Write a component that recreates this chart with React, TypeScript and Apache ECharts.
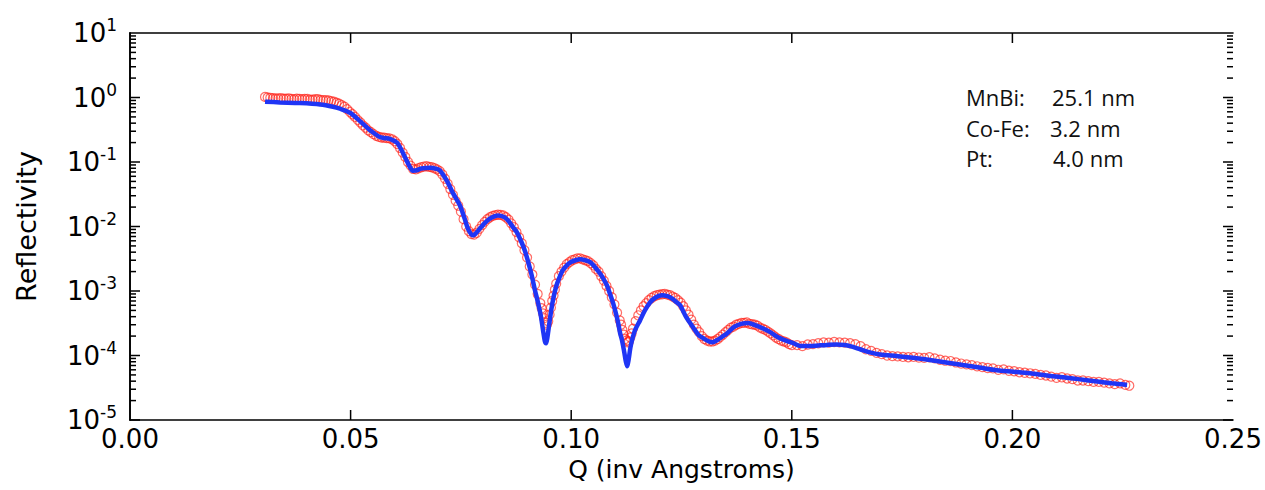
import React, { useEffect, useRef } from "react";
import * as echarts from "echarts";

// Fit curve (blue line)
const FIT_Q = [
  0.0306, 0.034, 0.0385, 0.0431, 0.046, 0.0476, 0.0499, 0.0515, 0.0528, 0.0542,
  0.0555, 0.0565, 0.0575, 0.0589, 0.0605, 0.0615, 0.0625, 0.0634, 0.0641, 0.065,
  0.066, 0.068, 0.0695, 0.0703, 0.0718, 0.0733, 0.0748, 0.0758, 0.0766, 0.0777,
  0.0785, 0.0793, 0.0805, 0.0816, 0.0834, 0.0848, 0.0857, 0.0868, 0.0877, 0.0887,
  0.0895, 0.0902, 0.091, 0.0918, 0.0925, 0.0931, 0.0936, 0.094, 0.0943, 0.0946,
  0.095, 0.0955, 0.096, 0.0966, 0.0973, 0.0981, 0.099, 0.0999, 0.101, 0.102,
  0.1032, 0.1043, 0.1055, 0.1065, 0.1074, 0.1081, 0.1088, 0.1095, 0.1101, 0.1106,
  0.1111, 0.1115, 0.112, 0.1124, 0.1127, 0.113, 0.1134, 0.1138, 0.1145, 0.1156,
  0.1167, 0.1179, 0.1192, 0.1206, 0.1218, 0.1228, 0.124, 0.1247, 0.126, 0.1276,
  0.1288, 0.1299, 0.131, 0.1319, 0.133, 0.1342, 0.1353, 0.137, 0.1385, 0.1401,
  0.142, 0.1436, 0.1451, 0.147, 0.1487, 0.1503, 0.152, 0.1541, 0.156, 0.158,
  0.1602, 0.162, 0.1632, 0.1655, 0.1677, 0.17, 0.1738, 0.1775, 0.1813, 0.185,
  0.1888, 0.1925, 0.1965, 0.2003, 0.204, 0.2078, 0.2115, 0.215, 0.2187, 0.2225,
  0.226,
];
const FIT_R = [
  0.86, 0.84, 0.82, 0.78, 0.72, 0.67, 0.58, 0.47, 0.39, 0.32,
  0.274, 0.247, 0.236, 0.229, 0.199, 0.155, 0.112, 0.085, 0.0734, 0.0745,
  0.0795, 0.0817, 0.078, 0.0734, 0.0514, 0.032, 0.0211, 0.0135, 0.0093, 0.0073,
  0.008, 0.0093, 0.0115, 0.0133, 0.0148, 0.014, 0.0124, 0.0098, 0.0081, 0.0058,
  0.0042, 0.0029, 0.0018, 0.00102, 0.00065, 0.00042, 0.00025, 0.00017, 0.000155, 0.00019,
  0.0003, 0.00052, 0.0008, 0.00118, 0.0016, 0.0021, 0.0025, 0.0028, 0.003, 0.0031,
  0.003, 0.0028, 0.0023, 0.00188, 0.0015, 0.00122, 0.0009, 0.00065, 0.00046, 0.00033,
  0.00022, 0.000174, 0.000115, 0.00008, 0.000068, 0.000085, 0.00013, 0.000174, 0.00025, 0.00035,
  0.0005, 0.00067, 0.0008, 0.00086, 0.00083, 0.00077, 0.00066, 0.0006, 0.0004, 0.000275,
  0.00021, 0.000186, 0.000168, 0.00016, 0.000172, 0.000195, 0.00022, 0.00028, 0.00031, 0.00032,
  0.00029, 0.00026, 0.00023, 0.00019, 0.00017, 0.000155, 0.00014, 0.00014, 0.000143, 0.000146,
  0.000148, 0.000145, 0.00014, 0.000125, 0.000112, 0.000104, 0.000098, 0.000092, 0.000085, 0.000078,
  0.000071, 0.000065, 0.000059, 0.000056, 0.000053, 0.000049, 0.000046, 0.000043, 0.00004, 0.000037,
  0.000035,
];

// Measured data (red open circles)
const DATA_Q = [
  0.0306, 0.0312, 0.0318, 0.0324, 0.033, 0.0336, 0.0342, 0.0348, 0.0354, 0.036,
  0.0366, 0.0372, 0.0378, 0.0384, 0.039, 0.0396, 0.0402, 0.0408, 0.0414, 0.042,
  0.0426, 0.0432, 0.0438, 0.0444, 0.045, 0.0456, 0.0462, 0.0468, 0.0474, 0.048,
  0.0486, 0.0492, 0.0498, 0.0504, 0.051, 0.0516, 0.0522, 0.0528, 0.0534, 0.054,
  0.0546, 0.0552, 0.0558, 0.0564, 0.057, 0.0576, 0.0582, 0.0588, 0.0594, 0.06,
  0.0606, 0.0612, 0.0618, 0.0624, 0.063, 0.0636, 0.0642, 0.0648, 0.0654, 0.066,
  0.0666, 0.0672, 0.0678, 0.0684, 0.069, 0.0696, 0.0702, 0.0708, 0.0714, 0.072,
  0.0726, 0.0732, 0.0738, 0.0744, 0.075, 0.0756, 0.0762, 0.0768, 0.0774, 0.078,
  0.0786, 0.0792, 0.0798, 0.0804, 0.081, 0.0816, 0.0822, 0.0828, 0.0834, 0.084,
  0.0846, 0.0852, 0.0858, 0.0864, 0.087, 0.0876, 0.0882, 0.0888, 0.0894, 0.09,
  0.0906, 0.0912, 0.0918, 0.0924, 0.093, 0.0933, 0.0936, 0.0939, 0.0942, 0.0945,
  0.0948, 0.0951, 0.0954, 0.0957, 0.096, 0.0963, 0.0966, 0.0972, 0.0978, 0.0984,
  0.099, 0.0996, 0.1002, 0.1008, 0.1014, 0.102, 0.1026, 0.1032, 0.1038, 0.1044,
  0.105, 0.1056, 0.1062, 0.1068, 0.1074, 0.108, 0.1086, 0.1092, 0.1098, 0.1104,
  0.111, 0.1113, 0.1116, 0.1119, 0.1122, 0.1125, 0.1128, 0.1131, 0.1134, 0.1137,
  0.114, 0.1146, 0.1152, 0.1158, 0.1164, 0.117, 0.1176, 0.1182, 0.1188, 0.1194,
  0.12, 0.1206, 0.1212, 0.1218, 0.1224, 0.123, 0.1236, 0.1242, 0.1248, 0.1254,
  0.126, 0.1266, 0.1272, 0.1278, 0.1284, 0.129, 0.1296, 0.1302, 0.1308, 0.1314,
  0.132, 0.1326, 0.1332, 0.1338, 0.1344, 0.135, 0.1356, 0.1362, 0.1368, 0.1374,
  0.138, 0.1386, 0.1392, 0.1398, 0.1404, 0.141, 0.1416, 0.1422, 0.1428, 0.1434,
  0.144, 0.1446, 0.1452, 0.1458, 0.1464, 0.147, 0.1476, 0.1482, 0.1488, 0.1494,
  0.15, 0.1512, 0.1524, 0.1536, 0.1548, 0.156, 0.1572, 0.1584, 0.1596, 0.1608,
  0.162, 0.1632, 0.1644, 0.1656, 0.1668, 0.168, 0.1692, 0.1704, 0.1716, 0.1728,
  0.174, 0.1752, 0.1764, 0.1776, 0.1788, 0.18, 0.1812, 0.1824, 0.1836, 0.1848,
  0.186, 0.1872, 0.1884, 0.1896, 0.1908, 0.192, 0.1932, 0.1944, 0.1956, 0.1968,
  0.198, 0.1992, 0.2004, 0.2016, 0.2028, 0.204, 0.2052, 0.2064, 0.2076, 0.2088,
  0.21, 0.2112, 0.2124, 0.2136, 0.2148, 0.216, 0.2172, 0.2184, 0.2196, 0.2208,
  0.222, 0.2232, 0.2244, 0.2256, 0.2265,
];
const DATA_R = [
  1.02, 1.0, 0.99, 0.98, 0.97, 0.97, 0.98, 0.96, 0.96, 0.97,
  0.95, 0.94, 0.96, 0.95, 0.94, 0.95, 0.95, 0.93, 0.93, 0.94,
  0.94, 0.92, 0.91, 0.91, 0.9, 0.88, 0.86, 0.83, 0.8, 0.76,
  0.72, 0.66, 0.6, 0.55, 0.5, 0.45, 0.41, 0.37, 0.34, 0.31,
  0.29, 0.27, 0.255, 0.245, 0.24, 0.238, 0.235, 0.232, 0.225, 0.21,
  0.19, 0.165, 0.14, 0.12, 0.1, 0.088, 0.078, 0.077, 0.08, 0.083,
  0.085, 0.086, 0.084, 0.083, 0.08, 0.077, 0.072, 0.064, 0.055, 0.046,
  0.038, 0.031, 0.025, 0.021, 0.017, 0.013, 0.01, 0.0085, 0.0076, 0.0075,
  0.008, 0.0092, 0.0105, 0.0118, 0.013, 0.0139, 0.0146, 0.015, 0.0152, 0.0151,
  0.0148, 0.0139, 0.0128, 0.0112, 0.0098, 0.0082, 0.0068, 0.0055, 0.0043, 0.0033,
  0.0024, 0.0018, 0.00125, 0.0009, 0.00065, 0.00054, 0.00045, 0.00038, 0.00032, 0.0003,
  0.00034, 0.00043, 0.00055, 0.0007, 0.00085, 0.00105, 0.0013, 0.0017, 0.002, 0.0023,
  0.0026, 0.0028, 0.003, 0.0031, 0.0032, 0.0032, 0.0031, 0.003, 0.0029, 0.0027,
  0.0025, 0.0022, 0.002, 0.0017, 0.00145, 0.0012, 0.001, 0.0008, 0.00062, 0.00046,
  0.00035, 0.0003, 0.00025, 0.00021, 0.00018, 0.00017, 0.00016, 0.000165, 0.00019, 0.00022,
  0.00026, 0.00034, 0.00042, 0.0005, 0.00058, 0.00065, 0.00072, 0.00078, 0.00083, 0.00086,
  0.00088, 0.00089, 0.0009, 0.00088, 0.00086, 0.00082, 0.00078, 0.00072, 0.00066, 0.00058,
  0.0005, 0.00043, 0.00036, 0.0003, 0.00026, 0.00023, 0.0002, 0.00018, 0.00017, 0.000165,
  0.000165, 0.00017, 0.00018, 0.000195, 0.00021, 0.00023, 0.00025, 0.00027, 0.00028, 0.0003,
  0.00031, 0.00032, 0.00032, 0.000325, 0.00031, 0.000305, 0.0003, 0.00029, 0.00027, 0.00026,
  0.00025, 0.000235, 0.00022, 0.000205, 0.00019, 0.00018, 0.00017, 0.000165, 0.00016, 0.00015,
  0.000145, 0.000145, 0.00014, 0.000148, 0.00015, 0.000155, 0.00016, 0.000158, 0.000162, 0.00016,
  0.000158, 0.000155, 0.00015, 0.00014, 0.000125, 0.000118, 0.00011, 0.000105, 0.0001, 0.000098,
  0.000097, 0.000095, 0.000094, 0.000095, 0.000093, 0.000092, 0.000094, 0.00009, 0.000086, 0.000083,
  0.000082, 0.000078, 0.000075, 0.000073, 0.000071, 0.000068, 0.000066, 0.000064, 0.000063, 0.00006,
  0.000061, 0.000058, 0.000057, 0.000055, 0.000054, 0.000053, 0.000052, 0.00005, 0.000049, 0.000047,
  0.000045, 0.000046, 0.000044, 0.000043, 0.000041, 0.000041, 0.00004, 0.000039, 0.000039, 0.000038,
  0.000037, 0.000036, 0.000037, 0.000035, 0.000034,
];

// Axis settings
const X_MIN = 0;
const X_MAX = 0.25;
const X_STEP = 0.05;
const X_MAJOR = [0.05, 0.1, 0.15, 0.2];
const Y_MIN = 1e-5;
const Y_MAX = 10;
const MINOR_MULTS = [2, 3, 4, 5, 6, 7, 8, 9];
const DECADES = [1e-5, 1e-4, 1e-3, 1e-2, 1e-1, 1];

// Annotation
const ANNOT_NAMES = ["MnBi:", "Co-Fe:", "Pt:"];
const ANNOT_VALUES = ["25.1 nm", "3.2 nm", "4.0 nm"];

const FONT = "DejaVu Sans";

export default function App() {
  const ref = useRef<HTMLDivElement>(null);

  useEffect(() => {
    if (!ref.current) return;
    const chart = echarts.init(ref.current, undefined, { renderer: "svg" });

    const fitData = FIT_Q.map((q, i) => [q, FIT_R[i]]);
    const measData = DATA_Q.map((q, i) => [q, DATA_R[i]]);
    // y tick marks: [0, value, length]
    const yTickData: number[][] = [];
    DECADES.forEach((d) => {
      yTickData.push([0, d, 10]);
      MINOR_MULTS.forEach((m) => yTickData.push([0, m * d, 6]));
    });
    const xTickData: number[][] = X_MAJOR.map((q) => [q, Y_MIN, 10]);

    const GRID = { left: 130, top: 33, width: 1103, height: 387 };
    const axisLine = { show: true, lineStyle: { color: "#000", width: 1.6 } };

    const yLabelFmt = (v: number) => {
      const e = Math.round(Math.log10(v));
      return `{b|10}{s|${e}}`;
    };

    const annotGraphics: any[] = [];
    ANNOT_NAMES.forEach((n, i) => {
      annotGraphics.push({
        type: "text",
        left: 966,
        top: 86 + i * 30.5,
        style: { text: n, font: '22px "Open Sans"', fill: "#111" },
      });
    });
    ANNOT_VALUES.forEach((v, i) => {
      annotGraphics.push({
        type: "text",
        left: [1052, 1050, 1053][i],
        top: 86 + i * 30.5,
        style: { text: v, font: '22px "Open Sans"', fill: "#111" },
      });
    });

    chart.setOption({
      animation: false,
      backgroundColor: "#fff",
      grid: { ...GRID, containLabel: false },
      xAxis: [
        {
          type: "value",
          min: X_MIN,
          max: X_MAX,
          interval: X_STEP,
          position: "bottom",
          axisLine,
          axisTick: { show: false },
          axisLabel: {
            color: "#000",
            fontFamily: FONT,
            fontSize: 26,
            margin: 6,
            formatter: (v: number) => v.toFixed(2),
          },
          splitLine: { show: false },
          name: "Q (inv Angstroms)",
          nameLocation: "middle",
          nameGap: 34,
          nameTextStyle: { color: "#000", fontFamily: FONT, fontSize: 25 },
        },
        {
          type: "value",
          min: X_MIN,
          max: X_MAX,
          interval: X_STEP,
          position: "top",
          axisLine,
          axisTick: { show: false },
          axisLabel: { show: false },
          splitLine: { show: false },
        },
      ],
      yAxis: [
        {
          type: "log",
          logBase: 10,
          min: Y_MIN,
          max: Y_MAX,
          splitNumber: 6,
          position: "left",
          axisLine,
          axisTick: { show: false },
          axisLabel: {
            color: "#000",
            margin: 13,
            formatter: yLabelFmt,
            rich: {
              b: { fontFamily: FONT, fontSize: 26, lineHeight: 33, color: "#000" },
              s: { fontFamily: FONT, fontSize: 17, lineHeight: 17, padding: [0, 0, 16, 0], color: "#000" },
            },
          },
          splitLine: { show: false },
          name: "Reflectivity",
          nameLocation: "middle",
          nameGap: 90,
          nameTextStyle: { color: "#000", fontFamily: FONT, fontSize: 27 },
        },
        {
          type: "log",
          logBase: 10,
          min: Y_MIN,
          max: Y_MAX,
          splitNumber: 6,
          position: "right",
          axisLine,
          axisTick: { show: false },
          axisLabel: { show: false },
          splitLine: { show: false },
        },
      ],
      graphic: annotGraphics,
      series: [
        {
          name: "yticks",
          type: "custom",
          xAxisIndex: 0,
          yAxisIndex: 0,
          clip: false,
          silent: true,
          data: yTickData,
          renderItem: (params: any, api: any) => {
            const v = api.value(1);
            const len = api.value(2);
            const l = api.coord([X_MIN, v]);
            const r = api.coord([X_MAX, v]);
            return {
              type: "group",
              children: [
                { type: "line", shape: { x1: l[0], y1: l[1], x2: l[0] + len, y2: l[1] }, style: { stroke: "#000", lineWidth: 1.5 } },
                { type: "line", shape: { x1: r[0] - len, y1: r[1], x2: r[0], y2: r[1] }, style: { stroke: "#000", lineWidth: 1.5 } },
              ],
            };
          },
        },
        {
          name: "xticks",
          type: "custom",
          xAxisIndex: 0,
          yAxisIndex: 0,
          clip: false,
          silent: true,
          data: xTickData,
          renderItem: (params: any, api: any) => {
            const q = api.value(0);
            const len = api.value(2);
            const b = api.coord([q, Y_MIN]);
            const t = api.coord([q, Y_MAX]);
            return {
              type: "group",
              children: [
                { type: "line", shape: { x1: b[0], y1: b[1], x2: b[0], y2: b[1] - len }, style: { stroke: "#000", lineWidth: 1.5 } },
                { type: "line", shape: { x1: t[0], y1: t[1], x2: t[0], y2: t[1] + len }, style: { stroke: "#000", lineWidth: 1.5 } },
              ],
            };
          },
        },
        {
          name: "data",
          type: "scatter",
          xAxisIndex: 0,
          yAxisIndex: 0,
          symbol: "circle",
          symbolSize: 9,
          data: measData,
          itemStyle: {
            color: "rgba(0,0,0,0)",
            borderColor: "rgba(255,25,15,0.8)",
            borderWidth: 1.2,
          },
          z: 2,
        },
        {
          name: "fit",
          type: "line",
          xAxisIndex: 0,
          yAxisIndex: 0,
          data: fitData,
          showSymbol: false,
          smooth: 0.3,
          lineStyle: { color: "#1f35f5", width: 4.5 },
          z: 3,
        },
      ],
    });

    return () => chart.dispose();
  }, []);

  return (
    <div
      ref={ref}
      style={{ position: "fixed", left: 0, top: 0, width: 1265, height: 490, background: "#fff" }}
    />
  );
}
